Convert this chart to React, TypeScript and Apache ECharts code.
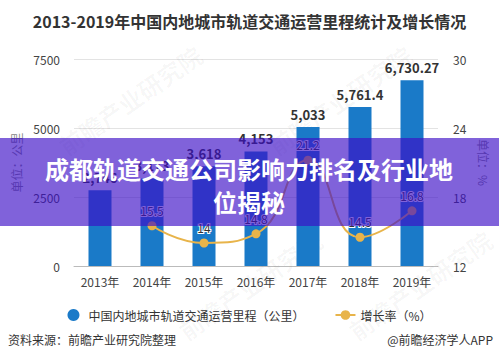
import React, { useEffect, useRef } from "react";
import * as echarts from "echarts";

const years = ["2013年", "2014年", "2015年", "2016年", "2017年", "2018年", "2019年"];
const mileage = [2746, 3173, 3618, 4153, 5033, 5761.4, 6730.27];
const growth = [null, 15.5, 14, 14.8, 21.2, 14.5, 16.8];
const leftTicks = { min: 0, max: 7500, interval: 2500 };
const rightTicks = { min: 12, max: 30, interval: 6 };

const FONT = "'Noto Sans CJK SC', 'Noto Sans', sans-serif";

export default function App() {
  const ref = useRef<HTMLDivElement>(null);
  useEffect(() => {
    const chart = echarts.init(ref.current!, null, { renderer: "svg" });
    const wm = (x: number, y: number) => ({
      type: "text",
      x,
      y,
      rotation: (35 * Math.PI) / 180,
      z: 1,
      style: {
        text: "前瞻产业研究院",
        fill: "rgba(0,0,0,0.035)",
        font: `bold 24px ${FONT}`,
        textAlign: "center",
        textVerticalAlign: "middle",
      },
    });
    chart.setOption({
      animation: false,
      backgroundColor: "#fff",
      textStyle: { fontFamily: FONT },
      title: {
        text: "2013-2019年中国内地城市轨道交通运营里程统计及增长情况",
        left: "center",
        top: 8,
        textStyle: { fontSize: 16, fontWeight: "bold", color: "#333", fontFamily: FONT },
      },
      grid: { left: 74, right: 61, top: 59, bottom: 98 },
      legend: {
        top: 304,
        left: "center",
        itemGap: 30,
        itemWidth: 20,
        itemHeight: 12,
        textStyle: { fontSize: 12, color: "#333", fontFamily: FONT },
        data: [
          { name: "中国内地城市轨道交通运营里程（公里）", icon: "circle" },
          { name: "增长率（%）" },
        ],
      },
      xAxis: {
        type: "category",
        data: years,
        axisLine: { lineStyle: { color: "#bbb" } },
        axisTick: { alignWithLabel: true, length: 4, lineStyle: { color: "#bbb" } },
        axisLabel: { color: "#444", fontSize: 12, margin: 9 },
      },
      yAxis: [
        {
          type: "value",
          ...leftTicks,
          name: "单位：公里",
          nameLocation: "middle",
          nameGap: 48,
          nameTextStyle: { color: "#888", fontSize: 12 },
          axisLabel: { color: "#444", fontSize: 12, margin: 14, formatter: (v: number) => String(v) },
          splitLine: { lineStyle: { color: "#e3e3e3" } },
          axisLine: { show: false },
          axisTick: { show: false },
        },
        {
          type: "value",
          ...rightTicks,
          name: "单位：%",
          nameLocation: "middle",
          nameGap: 36,
          nameRotate: -90,
          nameTextStyle: { color: "#888", fontSize: 12 },
          axisLabel: { color: "#444", fontSize: 12, margin: 15, formatter: (v: number) => String(v) },
          splitLine: { show: false },
          axisLine: { show: false },
          axisTick: { show: false },
        },
      ],
      series: [
        {
          name: "中国内地城市轨道交通运营里程（公里）",
          type: "bar",
          data: mileage,
          barWidth: 23,
          itemStyle: { color: "#1a7ac8" },
          label: {
            show: true,
            position: "top",
            distance: 6,
            color: "#333",
            fontWeight: "bold",
            fontSize: 13,
            formatter: (p: any) => Number(p.value).toLocaleString("en-US", { maximumFractionDigits: 2 }),
          },
          z: 2,
        },
        {
          name: "增长率（%）",
          type: "line",
          yAxisIndex: 1,
          data: growth,
          smooth: true,
          symbol: "circle",
          symbolSize: 9,
          lineStyle: { color: "#e8b44a", width: 2 },
          itemStyle: { color: "#e8b44a" },
          label: {
            show: true,
            position: "top",
            distance: 5,
            color: "#333",
            fontSize: 12,
            textBorderColor: "#fff",
            textBorderWidth: 2,
          },
          z: 3,
        },
      ],
      graphic: [
        wm(130, 100),
        wm(340, 100),
        wm(250, 285),
        wm(420, 285),
        {
          type: "rect",
          left: 0,
          top: 138,
          z: 100,
          shape: { width: 499, height: 88 },
          style: { fill: "rgba(60,14,198,0.65)" },
        },
        {
          type: "text",
          x: 249,
          y: 168,
          z: 101,
          style: {
            text: "成都轨道交通公司影响力排名及行业地",
            fill: "#fff",
            font: `bold 24px ${FONT}`,
            textAlign: "center",
            textVerticalAlign: "middle",
          },
        },
        {
          type: "text",
          x: 249,
          y: 201,
          z: 101,
          style: {
            text: "位揭秘",
            fill: "#fff",
            font: `bold 24px ${FONT}`,
            textAlign: "center",
            textVerticalAlign: "middle",
          },
        },
        {
          type: "text",
          left: 8,
          top: 333,
          style: { text: "资料来源：前瞻产业研究院整理", fill: "#333", font: `12px ${FONT}` },
        },
        {
          type: "text",
          right: 6,
          top: 333,
          style: { text: "@前瞻经济学人APP", fill: "#333", font: `12px ${FONT}` },
        },
      ],
    });
    return () => chart.dispose();
  }, []);
  return (
    <div
      ref={ref}
      style={{ position: "fixed", left: 0, top: 0, width: 499, height: 364 }}
    />
  );
}
